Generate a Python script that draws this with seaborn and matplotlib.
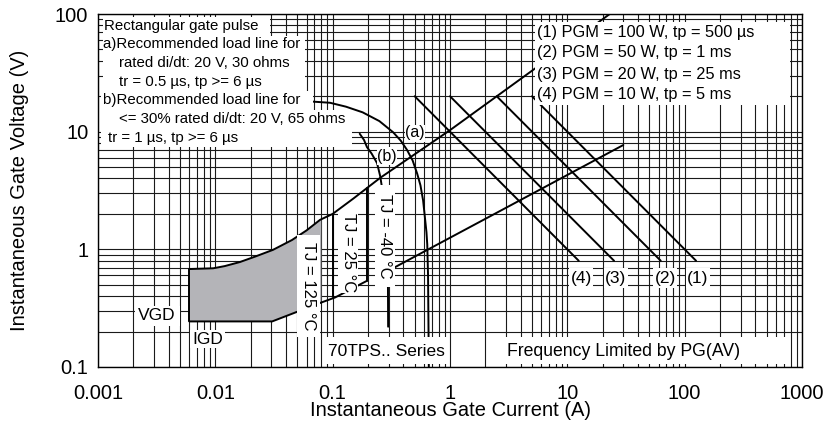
import numpy as np
import matplotlib
matplotlib.use("Agg")
import matplotlib.pyplot as plt
import seaborn as sns
from matplotlib.patches import Rectangle
from matplotlib.ticker import FixedLocator, FixedFormatter, LogLocator, NullFormatter

sns.set_style("white")
plt.rcParams['font.family'] = ['Liberation Sans', 'DejaVu Sans']
plt.rcParams['text.color'] = 'black'
plt.rcParams['axes.labelcolor'] = 'black'
plt.rcParams['xtick.color'] = 'black'
plt.rcParams['ytick.color'] = 'black'

# --- данные ---
x_ticks = [0.001, 0.01, 0.1, 1, 10, 100, 1000]
x_tick_labels = ['0.001', '0.01', '0.1', '1', '10', '100', '1000']
y_ticks = [0.1, 1, 10, 100]
y_tick_labels = ['0.1', '1', '10', '100']

# нагрузочные линии (a) 20 В / 30 Ом и (b) 20 В / 65 Ом
load_a_i = [0.068, 0.095, 0.13, 0.18, 0.25, 0.327, 0.38, 0.43, 0.48, 0.525,
            0.56, 0.59, 0.61, 0.63, 0.64, 0.65, 0.66]
load_a_v = [18.0, 17.6, 16.3, 14.6, 12.3, 9.9, 8.4, 7.0, 5.7, 4.4,
            3.5, 2.6, 1.9, 1.4, 1.1, 0.6, 0.1]
load_b_i = [0.17, 0.185, 0.196, 0.215, 0.239, 0.254, 0.268, 0.28, 0.288, 0.293, 0.296, 0.297]
load_b_v = [9.6, 8.5, 7.4, 6.5, 5.4, 4.2, 3.0, 2.0, 1.3, 0.8, 0.47, 0.22]

# верхняя граница (VGT) и нижняя граница области
upper_i = [0.006, 0.0096, 0.012, 0.0162, 0.022, 0.031, 0.045, 0.06, 0.078, 0.1,
           0.15, 0.254, 1.0, 4.8, 23]
upper_v = [0.68, 0.69, 0.72, 0.78, 0.87, 0.99, 1.2, 1.45, 1.78, 2.0,
           2.7, 4.05, 10.3, 32, 100]
lower_i = [0.006, 0.0305, 0.078, 0.105, 0.196]
lower_v = [0.244, 0.244, 0.35, 0.39, 0.54]
left_i = [0.006, 0.006]
left_v = [0.244, 0.68]

# закрашенная область (нет срабатывания)
shade_i = [0.006, 0.006, 0.0096, 0.012, 0.0162, 0.022, 0.031, 0.045, 0.06, 0.08, 0.08, 0.0305]
shade_v = [0.244, 0.68, 0.69, 0.72, 0.78, 0.87, 0.99, 1.2, 1.45, 1.8, 0.36, 0.244]

# вертикальные линии TJ
tj25_i = [0.1, 0.1]
tj25_v = [0.39, 2.0]
tjm40_i = [0.196, 0.196]
tjm40_v = [0.54, 3.3]

# нижняя прямая
line2_i = [0.3, 30]
line2_v = [0.66, 7.7]

# линии мощности PGM (1)..(4)
pgm_names = ['(1)', '(2)', '(3)', '(4)']
pgm_start_i = [5, 2.5, 1, 0.5]
pgm_end_i = [125, 62.5, 25, 12.5]
pgm_start_v = [20, 20, 20, 20]
pgm_end_v = [0.8, 0.8, 0.8, 0.8]

pgm_texts = ['(1) PGM = 100 W, tp = 500 µs', '(2) PGM = 50 W, tp = 1 ms',
             '(3) PGM = 20 W, tp = 25 ms', '(4) PGM = 10 W, tp = 5 ms']
note_lines = ['Rectangular gate pulse', 'a)Recommended load line for',
              'rated di/dt: 20 V, 30 ohms', 'tr = 0.5 µs, tp >= 6 µs',
              'b)Recommended load line for', '<= 30% rated di/dt: 20 V, 65 ohms',
              'tr = 1 µs, tp >= 6 µs']

fig = plt.figure(figsize=(8.27, 4.32), dpi=100)
ax = fig.add_axes([98 / 827, 65 / 432, 704 / 827, 353 / 432])
ax.set_xscale('log')
ax.set_yscale('log')
ax.set_xlim(0.001, 1000)
ax.set_ylim(0.1, 100)


def fr(x, y):
    # пиксели картинки -> доли осей
    return (x - 98) / 704, (367 - y) / 353


def white_box(x0, y0, x1, y1):
    fx0, fy1 = fr(x0, y0)
    fx1, fy0 = fr(x1, y1)
    ax.add_patch(Rectangle((fx0, fy0), fx1 - fx0, fy1 - fy0, transform=ax.transAxes,
                           fc='white', ec='none', zorder=4))


def label(x, y, s, size=12.5, ha='left', rot=0):
    fx, fy = fr(x, y)
    ax.text(fx, fy, s, transform=ax.transAxes, ha=ha, va='center', fontsize=size,
            rotation=rot, zorder=5, color='black')


ax.fill(shade_i, shade_v, color='#b4b4b8', lw=0, zorder=2)

kw = dict(ax=ax, color='black', linewidth=1.4, sort=False, estimator=None, legend=False, zorder=3)
sns.lineplot(x=load_a_i, y=load_a_v, **kw)
sns.lineplot(x=load_b_i, y=load_b_v, **kw)
sns.lineplot(x=upper_i, y=upper_v, **kw)
sns.lineplot(x=lower_i, y=lower_v, **kw)
sns.lineplot(x=left_i, y=left_v, **kw)
sns.lineplot(x=tj25_i, y=tj25_v, **kw)
sns.lineplot(x=tjm40_i, y=tjm40_v, **kw)
sns.lineplot(x=line2_i, y=line2_v, **kw)
for i0, i1, v0, v1 in zip(pgm_start_i, pgm_end_i, pgm_start_v, pgm_end_v):
    sns.lineplot(x=[i0, i1], y=[v0, v1], **kw)

# сетка
ax.xaxis.set_major_locator(FixedLocator(x_ticks))
ax.xaxis.set_major_formatter(FixedFormatter(x_tick_labels))
ax.yaxis.set_major_locator(FixedLocator(y_ticks))
ax.yaxis.set_major_formatter(FixedFormatter(y_tick_labels))
for a in (ax.xaxis, ax.yaxis):
    a.set_minor_locator(LogLocator(base=10, subs=np.arange(2, 10)))
    a.set_minor_formatter(NullFormatter())
ax.set_axisbelow(True)
ax.grid(which='both', color='#1a1a1a', linewidth=0.8)
ax.tick_params(which='both', length=0, labelsize=14.5, labelcolor='black')
ax.tick_params(axis='x', pad=12)
ax.tick_params(axis='y', pad=7)
for s in ax.spines.values():
    s.set_color('black')
    s.set_linewidth(1.0)

# белые подложки под надписями
white_box(103, 17, 270, 36)
white_box(103, 36, 305, 91)
white_box(101, 91, 313, 110)
white_box(101, 110, 352, 147)
white_box(535, 22, 790, 105)
white_box(503, 337, 787, 364)
white_box(326, 337, 447, 364)
white_box(297, 235, 320, 337)
white_box(338, 213, 358, 293)
white_box(375, 185, 395, 287)
white_box(135, 306, 180, 326)
white_box(190, 330, 225, 348)
white_box(405, 125, 425, 142)
white_box(377, 147, 397, 165)
for xc in [698, 665, 616, 581]:
    white_box(xc - 12, 268, xc + 12, 288)

# тексты
note_pos = [(104, 26), (103, 44), (119, 63), (119, 82), (103, 100), (119, 119), (108, 138)]
for (x, y), s in zip(note_pos, note_lines):
    label(x, y, s, size=10.8)
for y, s in zip([32, 53, 74, 95], pgm_texts):
    label(537, y, s, size=11.8)
for xc, s in zip([698, 665, 616, 581], pgm_names):
    label(xc, 278, s, size=12.5, ha='center')
label(415, 133, '(a)', size=11.5, ha='center')
label(387, 156, '(b)', size=11.5, ha='center')
label(308, 286, 'TJ = 125 °C', size=12, ha='center', rot=-90)
label(348, 253, 'TJ = 25 °C', size=12, ha='center', rot=-90)
label(385, 236, 'TJ = -40 °C', size=12, ha='center', rot=-90)
label(157, 316, 'VGD', size=12.5, ha='center')
label(208, 340, 'IGD', size=12.5, ha='center')
label(328, 352, '70TPS.. Series', size=12.5)
label(507, 352, 'Frequency Limited by PG(AV)', size=12.7)

ax.set_xlabel('Instantaneous Gate Current (A)', fontsize=14.5, color='black')
ax.set_ylabel('Instantaneous Gate Voltage (V)', fontsize=14.5, color='black')
ax.xaxis.set_label_coords(0.5, (367 - 401) / 353)
ax.yaxis.set_label_coords((29 - 98) / 704, 0.5)

fig.savefig('out.png', dpi=100)
